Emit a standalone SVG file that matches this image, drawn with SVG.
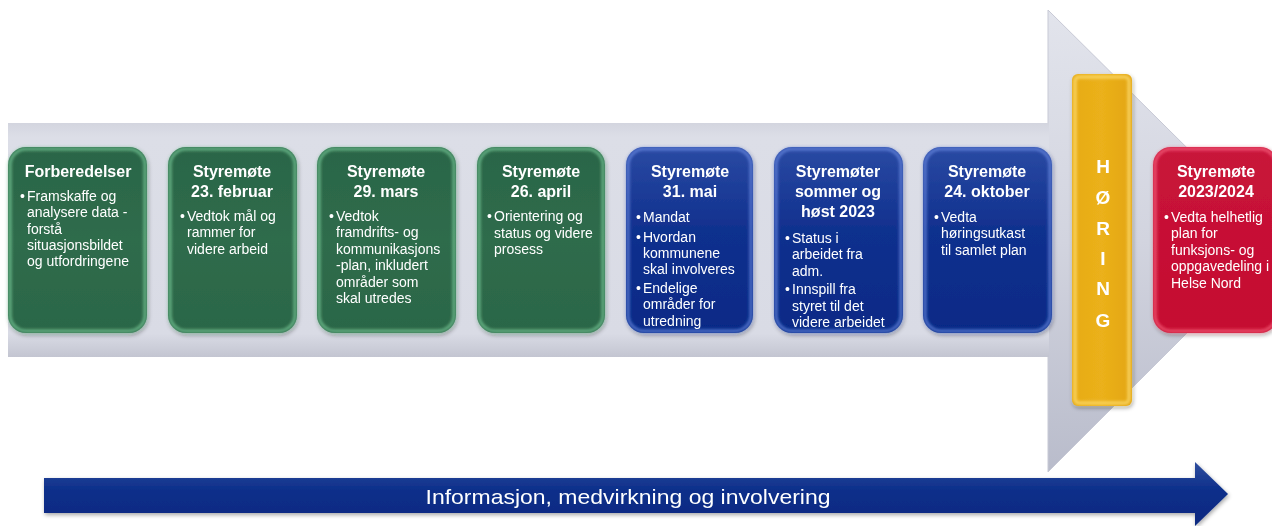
<svg xmlns="http://www.w3.org/2000/svg" width="1272" height="526" viewBox="0 0 1272 526">
  <defs>
    <linearGradient id="gGreen" x1="0" y1="0" x2="0" y2="1">
      <stop offset="0" stop-color="#2a6547"/>
      <stop offset="0.5" stop-color="#2f6c4c"/>
      <stop offset="1" stop-color="#2b6647"/>
    </linearGradient>
    <linearGradient id="gBlue" x1="0" y1="0" x2="0" y2="1">
      <stop offset="0" stop-color="#2a4aa3"/>
      <stop offset="0.45" stop-color="#10308e"/>
      <stop offset="1" stop-color="#062a86"/>
    </linearGradient>
    <linearGradient id="gRed" x1="0" y1="0" x2="0" y2="1">
      <stop offset="0" stop-color="#c8143a"/>
      <stop offset="1" stop-color="#c50c30"/>
    </linearGradient>
    <linearGradient id="gGold" x1="0" y1="0" x2="1" y2="0">
      <stop offset="0" stop-color="#e7ab17"/>
      <stop offset="0.5" stop-color="#ebb11a"/>
      <stop offset="1" stop-color="#e3a512"/>
    </linearGradient>
    <linearGradient id="gShaft" x1="0" y1="0" x2="0" y2="1">
      <stop offset="0" stop-color="#d3d5df"/>
      <stop offset="0.06" stop-color="#dcdee7"/>
      <stop offset="0.9" stop-color="#d9dbe5"/>
      <stop offset="1" stop-color="#c3c5d1"/>
    </linearGradient>
    <linearGradient id="gHead" x1="0" y1="0" x2="0" y2="1">
      <stop offset="0" stop-color="#e2e4ec"/>
      <stop offset="0.5" stop-color="#d2d4df"/>
      <stop offset="1" stop-color="#b9bccb"/>
    </linearGradient>
    <linearGradient id="gBand" x1="0" y1="0" x2="0" y2="1">
      <stop offset="0" stop-color="#2f4e9e"/>
      <stop offset="0.45" stop-color="#0c2e8a"/>
      <stop offset="1" stop-color="#0a2a80"/>
    </linearGradient>
    <filter id="soft" x="-10%" y="-10%" width="120%" height="120%">
      <feGaussianBlur stdDeviation="1.6"/>
    </filter>
    <filter id="shadow" x="-10%" y="-10%" width="130%" height="130%">
      <feGaussianBlur in="SourceAlpha" stdDeviation="2"/>
      <feOffset dx="1" dy="2" result="b"/>
      <feComponentTransfer><feFuncA type="linear" slope="0.35"/></feComponentTransfer>
      <feMerge><feMergeNode/><feMergeNode in="SourceGraphic"/></feMerge>
    </filter>
  </defs>
  <style>
    .title { font-family: "Liberation Sans", Arial, sans-serif; font-weight: bold; font-size: 16px; fill: #ffffff; text-anchor: middle; }
    .body { font-family: "Liberation Sans", Arial, sans-serif; font-size: 14px; fill: #ffffff; }
    .hor { font-family: "Liberation Sans", Arial, sans-serif; font-weight: bold; font-size: 19px; fill: #ffffff; text-anchor: middle; }
    .band { font-family: "Liberation Sans", Arial, sans-serif; font-size: 21px; fill: #ffffff; text-anchor: middle; }
    .green { fill: url(#gGreen); }
    .blue { fill: url(#gBlue); }
    .red { fill: url(#gRed); }
    .rim { fill: none; stroke-width: 3; filter: url(#soft); }
    .rim-g { stroke: #7ccf9c; opacity: 0.75; }
    .rim-b { stroke: #6f8fe6; opacity: 0.75; }
    .rim-r { stroke: #ff6f8a; opacity: 0.7; }
  </style>

  <rect width="1272" height="526" fill="#ffffff"/>

  <!-- timeline backbone arrow -->
  <g id="timeline-arrow">
    <polygon points="1048,10 1280,240 1048,472" fill="url(#gHead)"/>
    <rect x="8" y="123" width="1041" height="234" fill="url(#gShaft)"/>
    <polyline points="1048,123 1048,10 1280,240 1048,472 1048,357" fill="none" stroke="#c7c9d5" stroke-width="1"/>
  </g>

  <!-- bottom band arrow -->
  <g id="band-arrow" filter="url(#shadow)">
    <polygon points="44,478 1195,478 1195,462 1228,494 1195,526 1195,513 44,513" fill="url(#gBand)"/>
    <text class="band" x="628" y="504" textLength="405" lengthAdjust="spacingAndGlyphs">Informasjon, medvirkning og involvering</text>
  </g>

  <g id="connectors"></g>

  <!-- meeting nodes -->
  <g id="node-forberedelser" filter="url(#shadow)">
    <rect class="green" x="8" y="147" width="139" height="186" rx="18"/>
    <rect class="rim rim-g" x="10" y="149" width="135" height="182" rx="16"/>
    <text class="title" x="78" y="177">Forberedelser</text>
    <text class="body" x="20" y="201">•</text>
    <text class="body" x="27" y="201">Framskaffe og</text>
    <text class="body" x="27" y="217">analysere data -</text>
    <text class="body" x="27" y="234">forstå</text>
    <text class="body" x="27" y="250">situasjonsbildet</text>
    <text class="body" x="27" y="266">og utfordringene</text>
  </g>

  <g id="node-feb" filter="url(#shadow)">
    <rect class="green" x="168" y="147" width="129" height="186" rx="18"/>
    <rect class="rim rim-g" x="170" y="149" width="125" height="182" rx="16"/>
    <text class="title" x="232" y="177">Styremøte</text>
    <text class="title" x="232" y="197">23. februar</text>
    <text class="body" x="180" y="221">•</text>
    <text class="body" x="187" y="221">Vedtok mål og</text>
    <text class="body" x="187" y="237">rammer for</text>
    <text class="body" x="187" y="254">videre arbeid</text>
  </g>

  <g id="node-mars" filter="url(#shadow)">
    <rect class="green" x="317" y="147" width="139" height="186" rx="18"/>
    <rect class="rim rim-g" x="319" y="149" width="135" height="182" rx="16"/>
    <text class="title" x="386" y="177">Styremøte</text>
    <text class="title" x="386" y="197">29. mars</text>
    <text class="body" x="329" y="221">•</text>
    <text class="body" x="336" y="221">Vedtok</text>
    <text class="body" x="336" y="237">framdrifts- og</text>
    <text class="body" x="336" y="254">kommunikasjons</text>
    <text class="body" x="336" y="270">-plan, inkludert</text>
    <text class="body" x="336" y="287">områder som</text>
    <text class="body" x="336" y="303">skal utredes</text>
  </g>

  <g id="node-april" filter="url(#shadow)">
    <rect class="green" x="477" y="147" width="128" height="186" rx="18"/>
    <rect class="rim rim-g" x="479" y="149" width="124" height="182" rx="16"/>
    <text class="title" x="541" y="177">Styremøte</text>
    <text class="title" x="541" y="197">26. april</text>
    <text class="body" x="487" y="221">•</text>
    <text class="body" x="494" y="221">Orientering og</text>
    <text class="body" x="494" y="238">status og videre</text>
    <text class="body" x="494" y="254">prosess</text>
  </g>

  <g id="node-mai" filter="url(#shadow)">
    <rect class="blue" x="626" y="147" width="127" height="186" rx="18"/>
    <rect class="rim rim-b" x="628" y="149" width="123" height="182" rx="16"/>
    <text class="title" x="690" y="177">Styremøte</text>
    <text class="title" x="690" y="197">31. mai</text>
    <text class="body" x="636" y="222">•</text>
    <text class="body" x="643" y="222">Mandat</text>
    <text class="body" x="636" y="242">•</text>
    <text class="body" x="643" y="242">Hvordan</text>
    <text class="body" x="643" y="258">kommunene</text>
    <text class="body" x="643" y="274">skal involveres</text>
    <text class="body" x="636" y="293">•</text>
    <text class="body" x="643" y="293">Endelige</text>
    <text class="body" x="643" y="309">områder for</text>
    <text class="body" x="643" y="326">utredning</text>
  </g>

  <g id="node-host" filter="url(#shadow)">
    <rect class="blue" x="774" y="147" width="129" height="186" rx="18"/>
    <rect class="rim rim-b" x="776" y="149" width="125" height="182" rx="16"/>
    <text class="title" x="838" y="177">Styremøter</text>
    <text class="title" x="838" y="197">sommer og</text>
    <text class="title" x="838" y="217">høst 2023</text>
    <text class="body" x="785" y="243">•</text>
    <text class="body" x="792" y="243">Status i</text>
    <text class="body" x="792" y="259">arbeidet fra</text>
    <text class="body" x="792" y="276">adm.</text>
    <text class="body" x="785" y="294">•</text>
    <text class="body" x="792" y="294">Innspill fra</text>
    <text class="body" x="792" y="311">styret til det</text>
    <text class="body" x="792" y="327">videre arbeidet</text>
  </g>

  <g id="node-oktober" filter="url(#shadow)">
    <rect class="blue" x="923" y="147" width="129" height="186" rx="18"/>
    <rect class="rim rim-b" x="925" y="149" width="125" height="182" rx="16"/>
    <text class="title" x="987" y="177">Styremøte</text>
    <text class="title" x="987" y="197">24. oktober</text>
    <text class="body" x="934" y="222">•</text>
    <text class="body" x="941" y="222">Vedta</text>
    <text class="body" x="941" y="238">høringsutkast</text>
    <text class="body" x="941" y="255">til samlet plan</text>
  </g>

  <g id="node-horing" filter="url(#shadow)">
    <rect x="1072" y="74" width="60" height="332" rx="6" fill="url(#gGold)"/>
    <rect class="rim" x="1075" y="77" width="54" height="326" rx="4" stroke="#ffe27a" opacity="0.8"/>
    <text class="hor" x="1103" y="173">H</text>
    <text class="hor" x="1103" y="204">Ø</text>
    <text class="hor" x="1103" y="235">R</text>
    <text class="hor" x="1103" y="265">I</text>
    <text class="hor" x="1103" y="295">N</text>
    <text class="hor" x="1103" y="327">G</text>
  </g>

  <g id="node-2023-2024" filter="url(#shadow)">
    <rect class="red" x="1153" y="147" width="125" height="186" rx="18"/>
    <rect class="rim rim-r" x="1155" y="149" width="121" height="182" rx="16"/>
    <text class="title" x="1216" y="177">Styremøte</text>
    <text class="title" x="1216" y="197">2023/2024</text>
    <text class="body" x="1164" y="222">•</text>
    <text class="body" x="1171" y="222">Vedta helhetlig</text>
    <text class="body" x="1171" y="238">plan for</text>
    <text class="body" x="1171" y="255">funksjons- og</text>
    <text class="body" x="1171" y="271">oppgavedeling i</text>
    <text class="body" x="1171" y="288">Helse Nord</text>
  </g>
</svg>
